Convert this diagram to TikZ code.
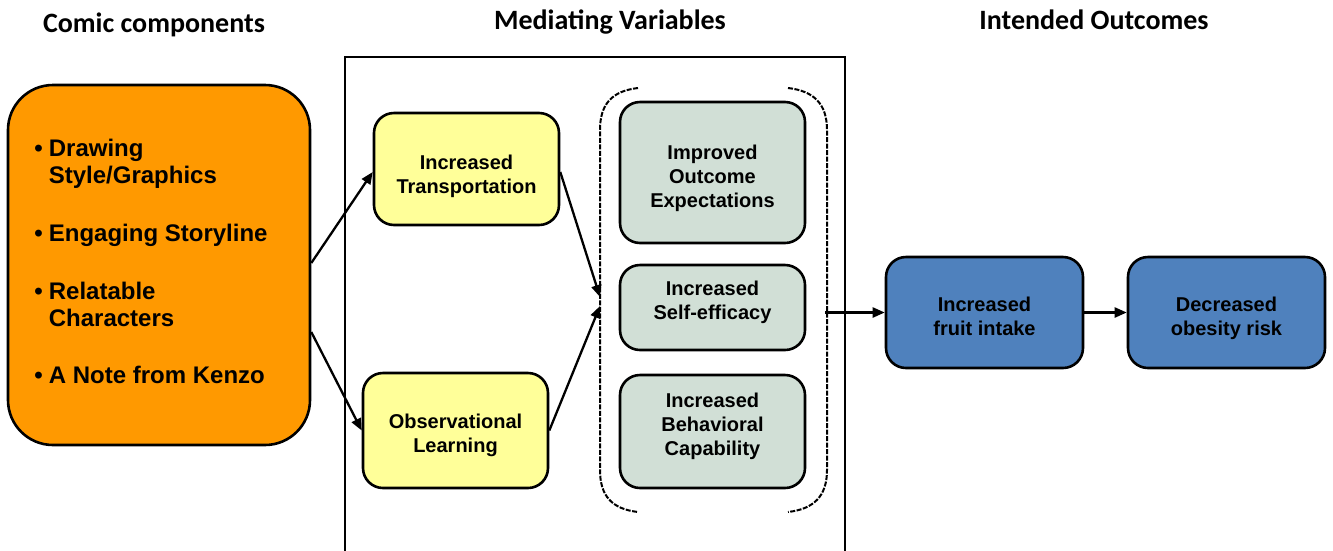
\documentclass[tikz,border=0pt]{standalone}
\usepackage{fontspec}
\setmainfont{Liberation Sans}
\newfontfamily\headfont{Carlito}
\usetikzlibrary{arrows.meta}
\definecolor{orangebox}{HTML}{FF9900}
\definecolor{yellowbox}{HTML}{FFFF99}
\definecolor{greenbox}{HTML}{D1DFD6}
\definecolor{bluebox}{HTML}{4F81BD}
% first baseline placed #1 pt above the node centre
\newcommand{\btext}[2]{\raisebox{#1pt}[0pt][0pt]{\begin{tabular}[t]{@{}c@{}}#2\end{tabular}}}
\tikzset{
  box/.style={draw=black, line width=2.6pt, rounded corners=20pt, align=center,
    font=\bfseries\fontsize{20}{24}\selectfont, inner sep=0pt},
  heading/.style={font=\headfont\bfseries\fontsize{28}{32}\selectfont, inner sep=0pt, anchor=base},
  conn/.style={line width=2.3pt, -{Triangle[length=12pt,width=10pt]}},
  brack/.style={line width=2pt, dash pattern=on 5pt off 1.5pt},
}
\begin{document}
\begin{tikzpicture}[x=1pt,y=-1pt]
\useasboundingbox (0,0) rectangle (1333,550);
% headings
\node[heading] (h1) at (154,32) {Comic components};
\node[heading] (h2) at (610,29) {Mediating Variables};
\node[heading] (h3) at (1094,29) {Intended Outcomes};
% mediating frame
\draw[line width=2.8pt] (345,553) -- (345,57) -- (845,57) -- (845,553);
% orange box
\node[box, fill=orangebox, rounded corners=45pt, minimum width=302pt, minimum height=360pt,
  font=\bfseries\fontsize{24}{26.8}\selectfont] (comic) at (159,265)
  {\begin{tabular}{@{}l@{\hspace{6pt}}l@{}}
   \textbullet & Drawing\\
   & Style/Graphics\\[31pt]
   \textbullet & Engaging Storyline\\[31pt]
   \textbullet & Relatable\\
   & Characters\\[31pt]
   \textbullet & A Note from Kenzo
   \end{tabular}\hspace{16pt}};
% yellow boxes
\node[box, fill=yellowbox, minimum width=185pt, minimum height=112pt] (trans) at (466.5,169) {\btext{0}{Increased\\Transportation}};
\node[box, fill=yellowbox, minimum width=185pt, minimum height=115pt] (obs) at (455.5,430.5) {\btext{2.5}{Observational\\Learning}};
% green boxes
\node[box, fill=greenbox, minimum width=185pt, minimum height=141pt] (outc) at (712.5,172.5) {\btext{13.5}{Improved\\Outcome\\Expectations}};
\node[box, fill=greenbox, minimum width=185pt, minimum height=85pt] (self) at (712.5,307.5) {\btext{12.5}{Increased\\Self-efficacy}};
\node[box, fill=greenbox, minimum width=185pt, minimum height=113pt] (behav) at (712.5,431.5) {\btext{24.5}{Increased\\Behavioral\\Capability}};
% bracket
\draw[brack] (638,88) .. controls (612,91) and (600,104) .. (600,130) -- (600,470) .. controls (600,496) and (612,509) .. (638,512);
\draw[brack] (788,88) .. controls (814,91) and (827,104) .. (827,130) -- (827,470) .. controls (827,496) and (814,509) .. (788,512);
% blue boxes
\node[box, fill=bluebox, minimum width=197pt, minimum height=111pt] (fruit) at (984.5,312.5) {\btext{1}{Increased\\fruit intake}};
\node[box, fill=bluebox, minimum width=197pt, minimum height=111pt] (obes) at (1226.5,312.5) {\btext{1}{Decreased\\obesity risk}};
% coordinates
\coordinate (in1) at (600,297);
\coordinate (in2) at (600,306);
\coordinate (out1) at (825,312.5);
% connectors
\draw[conn] ([yshift=2pt]comic.east) -- ([yshift=-3pt]trans.west);
\draw[conn] ([yshift=-67pt]comic.east) -- (obs.west);
\draw[conn] ([yshift=-3pt]trans.east) -- (in1);
\draw[conn] (obs.east) -- (in2);
\draw[conn] (out1) -- (fruit.west);
\draw[conn] (fruit.east) -- (obes.west);
\end{tikzpicture}
\end{document}
